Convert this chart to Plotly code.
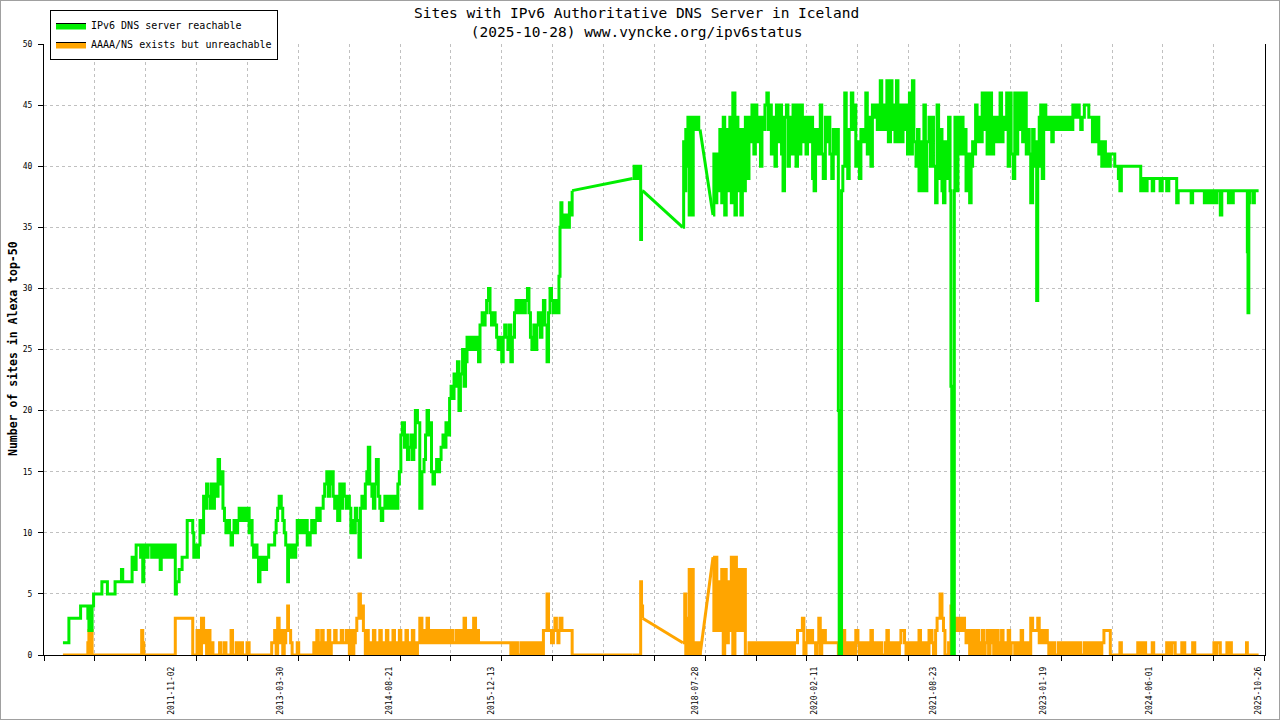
import pandas as pd
import plotly.graph_objects as go

GREEN = '#00ee00'
ORANGE = '#ffa500'
FONT = 'DejaVu Sans Mono'

# sample dates (shared by both series)
dates = [
    # 2010
    '2010-06-10', '2010-06-20', '2010-07-01', '2010-07-08', '2010-07-15', '2010-08-01', '2010-08-15', '2010-09-01',
    '2010-09-15', '2010-10-01', '2010-10-05', '2010-10-10', '2010-10-15', '2010-10-20', '2010-10-25', '2010-11-01',
    '2010-11-15', '2010-12-01', '2010-12-10', '2010-12-20',
    # 2011
    '2011-01-05', '2011-01-15', '2011-02-01', '2011-02-10', '2011-02-20', '2011-03-05', '2011-03-12', '2011-03-18',
    '2011-04-01', '2011-04-15', '2011-04-25', '2011-05-01', '2011-05-10', '2011-05-20', '2011-06-01', '2011-06-10',
    '2011-06-15', '2011-06-20', '2011-06-25', '2011-07-01', '2011-07-08', '2011-07-15', '2011-07-22', '2011-08-01',
    '2011-08-08', '2011-08-15', '2011-08-22', '2011-09-01', '2011-09-10', '2011-09-15', '2011-09-22', '2011-10-01',
    '2011-10-08', '2011-10-15', '2011-10-22', '2011-11-01', '2011-11-08', '2011-11-20', '2011-11-25', '2011-12-01',
    '2011-12-08', '2011-12-15', '2011-12-22',
    # 2012
    '2012-01-10', '2012-01-15', '2012-01-22', '2012-02-01', '2012-02-10', '2012-02-15', '2012-02-22', '2012-03-01',
    '2012-03-08', '2012-03-15', '2012-03-22', '2012-04-01', '2012-04-08', '2012-04-15', '2012-04-22', '2012-05-01',
    '2012-05-08', '2012-05-15', '2012-05-22', '2012-06-01', '2012-06-08', '2012-06-15', '2012-06-22', '2012-07-01',
    '2012-07-08', '2012-07-15', '2012-07-22', '2012-08-01', '2012-08-08', '2012-08-15', '2012-08-22', '2012-09-01',
    '2012-09-08', '2012-09-15', '2012-09-22', '2012-10-01', '2012-10-08', '2012-10-15', '2012-10-22', '2012-11-01',
    '2012-11-08', '2012-11-15', '2012-11-22', '2012-12-01', '2012-12-08', '2012-12-15', '2012-12-22',
    # 2013
    '2013-01-01', '2013-01-08', '2013-01-15', '2013-01-22', '2013-02-01', '2013-02-15', '2013-03-01', '2013-03-08',
    '2013-03-15', '2013-03-22', '2013-04-01', '2013-04-08', '2013-04-15', '2013-04-22', '2013-05-01', '2013-05-05',
    '2013-05-15', '2013-05-22', '2013-06-01', '2013-06-08', '2013-06-15', '2013-06-22', '2013-07-01', '2013-07-08',
    '2013-07-15', '2013-07-22', '2013-08-01', '2013-08-08', '2013-08-15', '2013-08-22', '2013-09-01', '2013-09-08',
    '2013-09-15', '2013-09-22', '2013-10-01', '2013-10-08', '2013-10-15', '2013-10-22', '2013-11-01', '2013-11-08',
    '2013-11-15', '2013-11-22', '2013-12-01', '2013-12-08', '2013-12-15', '2013-12-22',
    # 2014
    '2014-01-01', '2014-01-08', '2014-01-15', '2014-01-22', '2014-02-01', '2014-02-08', '2014-02-15', '2014-02-22',
    '2014-03-01', '2014-03-08', '2014-03-15', '2014-03-22', '2014-04-01', '2014-04-08', '2014-04-15', '2014-04-22',
    '2014-05-01', '2014-05-08', '2014-05-15', '2014-05-22', '2014-06-01', '2014-06-08', '2014-06-15', '2014-06-22',
    '2014-07-01', '2014-07-08', '2014-07-15', '2014-07-22', '2014-08-01', '2014-08-08', '2014-08-15', '2014-08-22',
    '2014-09-01', '2014-09-08', '2014-09-15', '2014-09-22', '2014-10-01', '2014-10-08', '2014-10-15', '2014-10-22',
    '2014-11-01', '2014-11-08', '2014-11-15', '2014-11-22', '2014-12-01', '2014-12-08', '2014-12-15', '2014-12-22',
    # 2015
    '2015-01-01', '2015-01-12', '2015-01-22', '2015-02-01', '2015-02-08', '2015-02-15', '2015-02-22', '2015-03-01',
    '2015-03-08', '2015-03-15', '2015-03-22', '2015-04-01', '2015-04-08', '2015-04-15', '2015-04-22', '2015-05-01',
    '2015-05-08', '2015-05-15', '2015-05-22', '2015-06-01', '2015-06-08', '2015-06-15', '2015-06-22', '2015-07-01',
    '2015-07-08', '2015-07-15', '2015-07-22', '2015-08-01', '2015-08-08', '2015-08-15', '2015-08-22', '2015-09-01',
    '2015-09-08', '2015-09-15', '2015-09-22', '2015-10-01', '2015-10-08', '2015-10-15', '2015-10-22', '2015-11-01',
    '2015-11-08', '2015-11-15', '2015-11-22', '2015-12-01', '2015-12-08', '2015-12-15', '2015-12-22',
    # 2016
    '2016-01-01', '2016-01-08', '2016-01-15', '2016-01-22', '2016-02-01', '2016-02-08', '2016-02-15', '2016-02-22',
    '2016-03-01', '2016-03-08', '2016-03-15', '2016-03-22', '2016-04-01', '2016-04-08', '2016-04-15', '2016-04-22',
    '2016-05-01', '2016-05-08', '2016-05-15', '2016-05-22', '2016-06-01', '2016-06-08', '2016-06-15', '2016-06-22',
    '2016-07-01', '2016-07-08', '2016-07-15', '2016-07-22', '2016-08-01', '2016-08-08', '2016-08-15', '2016-08-22',
    '2016-09-01', '2016-09-08', '2016-09-15', '2016-09-22', '2016-10-01', '2016-10-08', '2016-10-15', '2016-10-22',
    '2016-10-27', '2016-11-01', '2016-11-05', '2016-11-10', '2016-11-15', '2016-11-22', '2016-12-01', '2016-12-08',
    '2016-12-15', '2016-12-20', '2016-12-28',
    # 2017
    '2017-10-08', '2017-10-15', '2017-10-22', '2017-11-01', '2017-11-08', '2017-11-15', '2017-11-19', '2017-11-24',
    # 2018
    '2018-06-01', '2018-06-05', '2018-06-10', '2018-06-15', '2018-06-20', '2018-06-25', '2018-07-01', '2018-07-05',
    '2018-07-10', '2018-07-15', '2018-07-20', '2018-07-25', '2018-08-01', '2018-08-08', '2018-08-15', '2018-08-21',
    '2018-10-21', '2018-10-25', '2018-11-01', '2018-11-08', '2018-11-15', '2018-11-22', '2018-12-01', '2018-12-08',
    '2018-12-15', '2018-12-22',
    # 2019
    '2019-01-01', '2019-01-08', '2019-01-15', '2019-01-22', '2019-02-01', '2019-02-08', '2019-02-15', '2019-02-22',
    '2019-03-01', '2019-03-08', '2019-03-15', '2019-03-22', '2019-04-01', '2019-04-08', '2019-04-15', '2019-04-22',
    '2019-05-01', '2019-05-08', '2019-05-15', '2019-05-22', '2019-06-01', '2019-06-08', '2019-06-15', '2019-06-22',
    '2019-07-01', '2019-07-08', '2019-07-15', '2019-07-22', '2019-08-01', '2019-08-08', '2019-08-15', '2019-08-22',
    '2019-09-01', '2019-09-08', '2019-09-15', '2019-09-22', '2019-10-01', '2019-10-08', '2019-10-15', '2019-10-22',
    '2019-11-01', '2019-11-08', '2019-11-15', '2019-11-22', '2019-12-01', '2019-12-08', '2019-12-15', '2019-12-22',
    # 2020
    '2020-01-01', '2020-01-08', '2020-01-15', '2020-01-22', '2020-02-01', '2020-02-08', '2020-02-15', '2020-02-22',
    '2020-03-01', '2020-03-08', '2020-03-15', '2020-03-22', '2020-04-01', '2020-04-08', '2020-04-15', '2020-04-22',
    '2020-05-01', '2020-05-08', '2020-05-15', '2020-05-22', '2020-06-01', '2020-06-05', '2020-06-12', '2020-06-16',
    '2020-06-22', '2020-07-01', '2020-07-08', '2020-07-15', '2020-07-22', '2020-08-01', '2020-08-08', '2020-08-15',
    '2020-08-22', '2020-09-01', '2020-09-08', '2020-09-15', '2020-09-22', '2020-10-01', '2020-10-08', '2020-10-15',
    '2020-10-22', '2020-11-01', '2020-11-08', '2020-11-15', '2020-11-22', '2020-12-01', '2020-12-08', '2020-12-15',
    '2020-12-22',
    # 2021
    '2021-01-01', '2021-01-08', '2021-01-15', '2021-01-22', '2021-02-01', '2021-02-08', '2021-02-15', '2021-02-22',
    '2021-03-01', '2021-03-08', '2021-03-15', '2021-03-22', '2021-04-01', '2021-04-08', '2021-04-15', '2021-04-22',
    '2021-05-01', '2021-05-08', '2021-05-15', '2021-05-22', '2021-06-01', '2021-06-08', '2021-06-15', '2021-06-22',
    '2021-07-01', '2021-07-08', '2021-07-15', '2021-07-22', '2021-08-01', '2021-08-08', '2021-08-15', '2021-08-22',
    '2021-09-01', '2021-09-08', '2021-09-15', '2021-09-22', '2021-10-01', '2021-10-08', '2021-10-15', '2021-10-22',
    '2021-11-01', '2021-11-08', '2021-11-12', '2021-11-16', '2021-11-24', '2021-11-28', '2021-12-01', '2021-12-08',
    '2021-12-15', '2021-12-22',
    # 2022
    '2022-01-01', '2022-01-08', '2022-01-15', '2022-01-22', '2022-02-01', '2022-02-08', '2022-02-15', '2022-02-22',
    '2022-03-01', '2022-03-08', '2022-03-15', '2022-03-22', '2022-04-01', '2022-04-08', '2022-04-15', '2022-04-22',
    '2022-05-01', '2022-05-08', '2022-05-15', '2022-05-22', '2022-06-01', '2022-06-08', '2022-06-15', '2022-06-22',
    '2022-07-01', '2022-07-08', '2022-07-15', '2022-07-22', '2022-08-01', '2022-08-08', '2022-08-15', '2022-08-22',
    '2022-09-01', '2022-09-08', '2022-09-15', '2022-09-22', '2022-10-01', '2022-10-08', '2022-10-15', '2022-10-22',
    '2022-11-01', '2022-11-08', '2022-11-15', '2022-11-22', '2022-12-01', '2022-12-08', '2022-12-15', '2022-12-20',
    '2022-12-25',
    # 2023
    '2023-01-01', '2023-01-08', '2023-01-15', '2023-01-22', '2023-02-01', '2023-02-08', '2023-02-15', '2023-02-22',
    '2023-03-01', '2023-03-08', '2023-03-15', '2023-03-22', '2023-04-01', '2023-04-08', '2023-04-15', '2023-04-22',
    '2023-05-01', '2023-05-08', '2023-05-15', '2023-05-22', '2023-06-01', '2023-06-08', '2023-06-15', '2023-06-22',
    '2023-07-01', '2023-07-08', '2023-07-15', '2023-07-22', '2023-08-01', '2023-08-08', '2023-08-15', '2023-08-22',
    '2023-09-01', '2023-09-08', '2023-09-15', '2023-09-22', '2023-10-01', '2023-10-08', '2023-10-15', '2023-10-22',
    '2023-11-01', '2023-11-08', '2023-11-15', '2023-11-22', '2023-12-01', '2023-12-08', '2023-12-15', '2023-12-22',
    # 2024
    '2024-01-01', '2024-01-08', '2024-01-15', '2024-01-22', '2024-02-15', '2024-03-15', '2024-04-01', '2024-04-08',
    '2024-04-15', '2024-04-22', '2024-05-01', '2024-05-08', '2024-05-15', '2024-05-22', '2024-06-01', '2024-06-08',
    '2024-06-15', '2024-06-22', '2024-07-01', '2024-07-15', '2024-07-22', '2024-08-01', '2024-08-15', '2024-08-22',
    '2024-09-01', '2024-09-15', '2024-10-01', '2024-10-08', '2024-10-15', '2024-11-01', '2024-11-15', '2024-12-01',
    '2024-12-08', '2024-12-15', '2024-12-22',
    # 2025
    '2025-01-01', '2025-01-15', '2025-02-01', '2025-02-08', '2025-02-15', '2025-02-22', '2025-03-01', '2025-03-08',
    '2025-03-15', '2025-03-22', '2025-04-01', '2025-04-08', '2025-04-15', '2025-04-22', '2025-05-01', '2025-05-08',
    '2025-05-22', '2025-06-01', '2025-06-08', '2025-06-15', '2025-06-22', '2025-07-01', '2025-07-15', '2025-08-01',
    '2025-08-15', '2025-09-01', '2025-09-05', '2025-09-08', '2025-09-12', '2025-09-15', '2025-09-22', '2025-10-01',
    '2025-10-08', '2025-10-15', '2025-10-28',
]

# IPv6 DNS server reachable
reachable = [
    1, 1, 1, 3, 3, 3, 3, 4, 4, 4, 3, 2, 4, 2, 4, 5, 5, 5, 6, 6,
    5, 5, 5, 6, 6, 6, 7, 6, 6, 6, 6, 8, 7, 9, 9, 8, 9, 6, 8, 9, 8, 9, 9, 8, 9, 9, 8, 9, 7, 8, 9, 8, 9, 8, 9, 8, 9,
    5, 6, 6, 7, 7, 8,
    8, 11, 11, 11, 10, 8, 9, 8, 9, 11, 10, 13, 12, 14, 13, 12, 14, 12, 14, 13, 16, 14, 15, 12, 11, 10, 11, 10, 9,
    10, 11, 10, 11, 12, 11, 12, 12, 11, 12, 10, 11, 9, 8, 9, 8, 6, 8,
    7, 8, 7, 8, 9, 9, 10, 11, 12, 13, 12, 11, 10, 9, 6, 9, 8, 9, 8, 9, 11, 10, 11, 10, 10, 11, 9, 9, 10, 11,
    10, 11, 12, 11, 12, 12, 13, 14, 15, 13, 14, 15, 13, 12, 13, 11,
    14, 12, 14, 13, 12, 13, 12, 10, 11, 10, 12, 11, 8, 12, 13, 12, 14, 15, 17, 14, 13, 12, 14, 16,
    13, 12, 11, 12, 13, 12, 13, 12, 13, 12, 13, 12, 14, 15, 18, 19, 17, 18, 16, 17, 18, 16, 17, 20,
    19, 12, 15, 16, 18, 20, 18, 19, 15, 14, 15, 16, 15, 16, 17, 18, 17, 19, 18, 21, 22, 21, 23,
    22, 24, 20, 23, 25, 22, 24, 26, 25, 26, 25, 26, 25, 26, 24, 27, 28, 27, 28, 29, 30, 28, 27, 28,
    27, 26, 25, 26, 24, 26, 27, 26, 25, 27, 24, 26, 28, 29, 28, 29, 28, 29, 28, 29, 30, 28, 26, 25,
    27, 25, 27, 28, 26, 28, 29, 27, 24, 28, 30, 29, 28, 28, 29, 28, 31, 35, 37, 36, 35, 36, 35, 35, 37, 36, 38,
    39, 40, 39, 40, 40, 34, 38, 38,
    35, 42, 38, 43, 40, 44, 36, 44, 38, 36, 44, 43, 44, 44, 43, 43, 36, 41, 37, 41, 38, 43, 37, 44, 36, 43,
    38, 44, 37, 46, 36, 44, 38, 43, 36, 43, 38, 44, 39, 44, 42, 45, 41, 45, 42, 44, 40, 44, 43, 45,
    46, 43, 45, 41, 44, 40, 45, 42, 45, 41, 38, 44, 45, 40, 44, 41, 45, 42, 40, 45, 41, 45, 42, 44,
    41, 44, 42, 44, 39, 38, 43, 41, 43, 45, 41, 39, 44, 42, 44, 41, 39, 43, 41, 43, 20, 0, 0, 38, 40,
    46, 42, 39, 43, 46, 43, 45, 40, 42, 39, 43, 42, 43, 46, 41, 44, 40, 45, 44, 45, 43, 45, 47, 43,
    45, 43, 47, 42, 47, 43, 45, 42, 47, 42, 45, 42, 45, 43, 45, 41, 46, 41, 47, 42, 40, 43, 38, 42,
    38, 45, 38, 42, 44, 40, 44, 40, 37, 45, 39, 43, 38, 37, 42, 39, 44, 38, 22, 0, 0, 38, 44, 38, 44, 41,
    44, 41, 43, 38, 41, 37, 40, 42, 41, 45, 42, 44, 42, 46, 43, 46, 41, 45, 46, 41, 44, 42, 44, 42,
    46, 42, 44, 43, 46, 40, 46, 41, 39, 46, 41, 46, 43, 46, 42, 46, 41, 43, 41, 37, 43, 40, 42, 29, 40,
    44, 45, 39, 45, 43, 44, 43, 44, 42, 44, 43, 44, 43, 44, 44, 43, 44, 44, 43, 44, 43, 45, 45, 44,
    45, 44, 43, 44, 45, 45, 45, 44, 44, 42, 44, 42, 44, 41, 42, 40, 42, 40, 41, 40, 41, 41, 41, 40,
    40, 39, 38, 40, 40, 40, 40, 40, 40, 38, 39, 39, 38, 39, 39, 39, 38, 39, 39, 39, 38, 39, 39, 38,
    39, 39, 39, 37, 38, 38, 38, 38, 38, 37, 38,
    38, 38, 38, 38, 37, 38, 38, 37, 38, 37, 38, 37, 38, 38, 36, 38, 38, 38, 37, 38, 37, 38, 38, 38,
    38, 38, 33, 28, 37, 38, 38, 37, 38, 38, 38,
]

# AAAA/NS exists but unreachable
unreachable = [
    0, 0, 0, 0, 0, 0, 0, 0, 0, 0, 1, 2, 0, 2, 0, 0, 0, 0, 0, 0,
    0, 0, 0, 0, 0, 0, 0, 0, 0, 0, 0, 0, 0, 0, 0, 0, 2, 1, 0, 0, 0, 0, 0, 0, 0, 0, 0, 0, 0, 0, 0, 0, 0, 0, 0, 0, 0,
    3, 3, 3, 3, 3, 3,
    3, 3, 3, 3, 0, 0, 0, 2, 1, 0, 3, 1, 2, 0, 2, 0, 1, 0, 0, 0, 0, 1, 0, 0, 1, 0, 0, 0, 2,
    0, 0, 1, 0, 0, 1, 0, 0, 0, 1, 0, 0, 0, 0, 0, 0, 0, 0,
    0, 0, 0, 0, 0, 1, 2, 0, 3, 1, 2, 0, 1, 2, 4, 2, 1, 0, 0, 0, 1, 0, 0, 0, 0, 0, 0, 0, 0, 0,
    1, 0, 2, 0, 1, 2, 0, 1, 0, 2, 0, 1, 1, 2, 1, 1,
    1, 2, 1, 1, 2, 1, 0, 2, 0, 1, 2, 3, 5, 3, 4, 2, 0, 2, 0, 1, 0, 2, 0, 1,
    0, 2, 0, 1, 0, 2, 0, 1, 0, 2, 0, 1, 0, 2, 0, 1, 0, 2, 0, 1, 0, 2, 1, 0,
    1, 3, 1, 2, 1, 3, 1, 2, 1, 2, 1, 2, 1, 2, 1, 2, 1, 1, 2, 1, 2, 1, 1,
    2, 1, 2, 1, 2, 3, 1, 2, 1, 2, 1, 3, 1, 2, 1, 1, 1, 1, 1, 1, 1, 1, 1, 1,
    1, 1, 1, 1, 1, 1, 1, 1, 1, 1, 0, 1, 0, 1, 0, 0, 1, 0, 1, 0, 1, 0, 1, 0,
    1, 0, 1, 0, 1, 0, 2, 2, 5, 2, 2, 1, 2, 3, 2, 1, 2, 3, 3, 2, 2, 2, 2, 2, 2, 2, 0,
    0, 0, 0, 0, 0, 6, 4, 3,
    1, 1, 5, 0, 3, 0, 7, 0, 5, 7, 0, 1, 0, 0, 1, 0, 8, 2, 8, 2, 6, 2, 7, 0, 7, 1,
    6, 2, 8, 0, 8, 2, 7, 2, 7, 2, 7, 0, 0, 1, 0, 1, 0, 1, 0, 1, 0, 1, 0, 1,
    0, 1, 0, 1, 0, 1, 0, 1, 0, 1, 0, 1, 0, 1, 0, 1, 0, 1, 1, 2, 2, 2, 3, 0,
    1, 2, 1, 2, 1, 1, 0, 1, 3, 0, 1, 2, 1, 1, 1, 1, 1, 1, 1, 1, 0, 0, 0, 0, 2,
    0, 1, 0, 1, 0, 1, 0, 2, 1, 0, 1, 0, 1, 0, 1, 0, 2, 0, 1, 0, 1, 0, 1, 0,
    0, 1, 2, 0, 1, 0, 1, 0, 1, 0, 1, 2, 2, 1, 0, 1, 0, 1, 0, 1, 0, 1, 2, 0,
    1, 0, 1, 0, 2, 2, 1, 0, 2, 3, 3, 5, 3, 2, 0, 0, 1, 0, 4, 3, 2, 2, 2, 3, 2, 3,
    2, 3, 2, 1, 2, 0, 1, 2, 0, 1, 2, 0, 1, 2, 0, 1, 2, 0, 1, 2, 0, 1, 2, 0,
    1, 2, 0, 1, 0, 2, 0, 1, 1, 0, 1, 0, 1, 2, 0, 1, 0, 1, 0, 3, 2, 2, 2, 2, 3,
    1, 2, 2, 1, 2, 1, 0, 1, 0, 1, 0, 0, 1, 0, 1, 0, 1, 0, 1, 0, 1, 0, 0, 1,
    0, 1, 0, 0, 1, 0, 0, 1, 0, 1, 0, 1, 0, 1, 0, 1, 2, 2, 2, 2, 0, 0, 0, 0,
    0, 0, 1, 0, 0, 0, 0, 1, 0, 1, 0, 1, 0, 0, 0, 0, 1, 0, 0, 0, 0, 0, 0, 1,
    0, 1, 0, 0, 0, 1, 0, 0, 0, 0, 1,
    0, 0, 0, 0, 0, 0, 0, 0, 0, 0, 1, 0, 1, 1, 0, 0, 0, 1, 0, 1, 0, 0, 0, 0,
    0, 1, 0, 0, 0, 0, 0, 0, 0, 0, 0,
]

label_dates = ['2011-11-02', '2013-03-30', '2014-08-21', '2015-12-13', '2018-07-28',
               '2020-02-11', '2021-08-23', '2023-01-19', '2024-06-01', '2025-10-26']
x_range = ['2010-03-13', '2025-11-27']
GRID_STEP_DAYS = 239

assert len(dates) == len(reachable) == len(unreachable), (len(dates), len(reachable), len(unreachable))

df = pd.DataFrame({'date': pd.to_datetime(dates), 'reachable': reachable, 'unreachable': unreachable})
# days with no measurement: gnuplot just draws a straight line over them
gap = df['date'].diff() > pd.Timedelta(days=45)
df['segment'] = gap.cumsum()
gap_rows = [df.index.get_loc(i) for i in df.index[gap]]

fig = go.Figure()

# legend keys (sit on the label axis so that axis gets drawn)
fig.add_trace(go.Scatter(x=[None], y=[None], xaxis='x2', mode='lines', fill='toself', fillcolor=GREEN,
                         line=dict(color='black', width=1), name='IPv6 DNS server reachable'))
fig.add_trace(go.Scatter(x=[None], y=[None], xaxis='x2', mode='lines', fill='toself', fillcolor=ORANGE,
                         line=dict(color='black', width=1), name='AAAA/NS exists but unreachable'))

for col, color in [('unreachable', ORANGE), ('reachable', GREEN)]:
    for _, seg in df.groupby('segment'):
        fig.add_trace(go.Scatter(
            x=seg['date'], y=seg[col], mode='lines',
            line=dict(color=color, width=3, shape='hv'),
            showlegend=False, hoverinfo='skip'
        ))
    for r in gap_rows:
        part = df.iloc[r - 1:r + 1]
        fig.add_trace(go.Scatter(
            x=part['date'], y=part[col], mode='lines',
            line=dict(color=color, width=3),
            showlegend=False, hoverinfo='skip'
        ))

fig.update_layout(
    xaxis=dict(
        type='date', range=x_range,
        tickmode='linear', tick0=x_range[0], dtick=GRID_STEP_DAYS * 86400000,
        showticklabels=False, ticks='outside', ticklen=5, tickcolor='black',
        showgrid=True, gridcolor='#c0c0c0', griddash='dot', gridwidth=1, zeroline=False,
        showline=True, linecolor='black', linewidth=1
    ),
    xaxis2=dict(
        type='date', range=x_range, overlaying='x', anchor='y', side='bottom',
        tickmode='array', tickvals=label_dates, ticktext=label_dates,
        tickangle=-90, tickfont=dict(size=8, color='black'), ticks='', ticklabelstandoff=9,
        showgrid=False, zeroline=False, showline=False
    ),
    yaxis=dict(
        range=[0, 50], tick0=0, dtick=5,
        ticks='outside', ticklen=5, tickcolor='black', tickfont=dict(size=8, color='black'),
        ticklabelstandoff=4,
        showgrid=True, gridcolor='#c0c0c0', griddash='dot', gridwidth=1, zeroline=False,
        showline=True, mirror=True, linecolor='black', linewidth=1
    ),
)

fig.add_annotation(
    text='Sites with IPv6 Authoritative DNS Server in Iceland<br>(2025-10-28) www.vyncke.org/ipv6status',
    xref='paper', yref='paper', x=(636 - 44) / 1221, y=(655 - 3) / 611,
    xanchor='center', yanchor='top', showarrow=False,
    font=dict(family=FONT, size=14.5, color='black')
)
fig.add_annotation(
    text='<b>Number of sites in Alexa top-50</b>', textangle=-90,
    xref='paper', yref='paper', x=(13 - 44) / 1221, y=0.5008,
    xanchor='center', yanchor='middle', showarrow=False,
    font=dict(family=FONT, size=11.5, color='black')
)
# grey frame round the whole picture
fig.add_shape(type='rect', xref='paper', yref='paper',
              x0=-44 / 1221, x1=1236 / 1221, y0=-65 / 611, y1=655 / 611,
              line=dict(color='#a0a0a0', width=2))

fig.update_layout(
    width=1280, height=720,
    margin=dict(l=44, r=15, t=44, b=65, autoexpand=False),
    paper_bgcolor='white', plot_bgcolor='white',
    font=dict(family=FONT, color='black'),
    legend=dict(
        x=6 / 1221, y=(655 - 10) / 611, xanchor='left', yanchor='top',
        bgcolor='white', bordercolor='black', borderwidth=1,
        font=dict(family=FONT, size=10, color='black'),
        itemwidth=30, tracegroupgap=0
    ),
    showlegend=True,
)

# the page's default 8px body margin would push the figure off the window
fig.write_html('out.html', config={'displayModeBar': False},
               post_script="document.body.style.margin = '0';")
